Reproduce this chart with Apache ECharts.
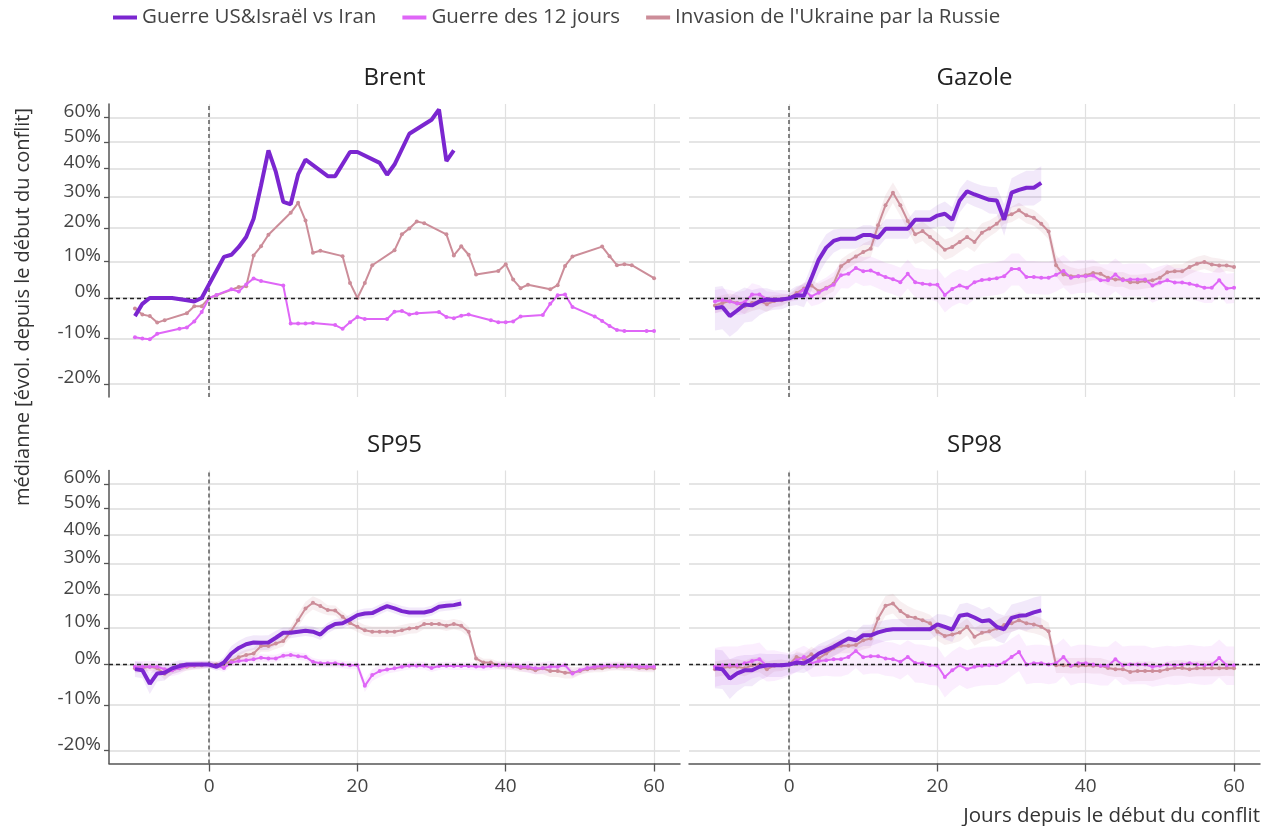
<!DOCTYPE html>
<html><head><meta charset="utf-8">
<script src="https://cdn.jsdelivr.net/npm/echarts@6/dist/echarts.min.js"></script>
<style>html,body{margin:0;padding:0;background:#fff}#chart{width:1261px;height:826px}</style>
</head><body><div id="chart"></div>
<script>
const seriesNames = ['Guerre US&Israël vs Iran', 'Guerre des 12 jours', "Invasion de l'Ukraine par la Russie"];
const panelTitles = ['Brent', 'Gazole', 'SP95', 'SP98'];
const yTickPct = [-20, -10, 0, 10, 20, 30, 40, 50, 60];
const xTicks = [0, 20, 40, 60];
const yAxisTitle = 'médianne [évol. depuis le début du conflit]';
const xAxisTitle = 'Jours depuis le début du conflit';

// days
const daysIran = [-10,-9,-8,-7,-6,-5,-4,-3,-2,-1,0,1,2,3,4,5,6,7,8,9,10,11,12,13,14,15,16,17,18,19,20,21,22,23,24,25,26,27,28,29,30,31,32,33,34];
const daysAll = [-10,-9,-8,-7,-6,-5,-4,-3,-2,-1,0,1,2,3,4,5,6,7,8,9,10,11,12,13,14,15,16,17,18,19,20,21,22,23,24,25,26,27,28,29,30,31,32,33,34,35,36,37,38,39,40,41,42,43,44,45,46,47,48,49,50,51,52,53,54,55,56,57,58,59,60];

// Brent (trading days only)
const brentIranDays = [-10,-9,-8,-5,-3,-2,-1,2,3,4,5,6,7,8,9,10,11,12,13,16,17,19,20,23,24,25,27,30,31,32,33];
const brentIran = [-4.6,-1.5,0,0,-0.6,-0.9,0,11.3,11.9,14.2,17.2,22.9,34,46.8,38.8,28.4,27.6,37.9,43.3,37.3,37.3,46.2,46.2,42.1,37.8,41.5,53.3,59,63.3,42.8,46.8];
const brent12Days = [-10,-9,-8,-7,-4,-3,-2,-1,0,1,3,4,5,6,7,10,11,12,13,14,17,18,19,20,21,24,25,26,27,28,31,32,33,34,35,38,39,40,41,42,45,46,47,48,49,52,53,54,55,56,59,60];
const brent12 = [-9.7,-10,-10.2,-8.9,-7.7,-7.4,-5.9,-3.6,0,0.8,2.3,1.7,3.6,5.2,4.5,3.3,-6.4,-6.4,-6.4,-6.3,-6.8,-7.7,-6.1,-4.8,-5.3,-5.3,-3.5,-3.3,-4.2,-3.9,-3.6,-4.8,-5.1,-4.5,-4.2,-5.6,-6.1,-6.1,-5.9,-4.7,-4.3,-1.5,0.7,0.9,-2.3,-4.7,-5.8,-7,-8,-8.2,-8.2,-8.2];
const brentUkrDays = [-10,-9,-8,-7,-6,-3,-2,-1,0,1,4,5,6,7,8,11,12,13,14,15,18,19,20,21,22,25,26,27,28,29,32,33,34,35,36,39,40,41,42,43,46,47,48,49,53,54,55,56,57,60];
const brentUkr = [-2.7,-4.2,-4.6,-6.2,-5.6,-3.9,-2.1,-2.1,0,0.7,2.9,3.1,11.7,14.4,17.9,24.8,28.1,22.3,12.5,13.1,11.5,4,0,4,8.9,13.2,18,19.8,22,21.5,18,11.7,14.4,11.9,6.3,7.3,9.2,4.9,2.6,3.5,2.3,3.4,8.7,11.4,14.3,11.5,8.9,9.2,8.9,5.3];

// Gazole
const gazIran = [-2.6,-2.3,-4.6,-3.2,-1.7,-1.9,-0.9,-0.4,-0.5,-0.4,-0.1, 0.7,0.6,5.3,10.5,14,16,16.7,16.7,16.7,17.8, 17.8,17,19.7,19.7,19.7,19.7,22.6,22.6,22.6,23.9, 24.5,22.6,28.9,32,30.9,30,29.1,28.9,22.6,31.5, 32.5,33.2,33.2,34.9];
const gazIranSpread = [5.5,5.5,5,5,4.5,4,3.5,3,2.5,2.5,2, 2.5,3,3.5,4,4,3.5,3,3,3,3, 3,3,3,3,3,3,3,3,3,3.5, 4,4,4,4,4,4,4.5,4.5,5,5, 5.5,6,6,6];
const gaz12 = [-0.9,-0.5,-0.9,-1.4,-1.1,0.9,0.9,-0.3,-0.4,-0.3,0, 0.8,2.2,0.4,1.4,2.5,3.5,6.1,6.5,8.1,7.2, 7.4,6.5,5.6,5,4.2,6.5,4.2,3.8,3.6,3.5, 0.8,2.4,3.3,2.7,4.2,4.8,5,5.3,5.8,7.8, 7.8,5.6,5.6,5.4,5.4,6.2,7.3,5.4,5.8,5.8, 6,4.7,4.7,6.3,4.7,4.9,4.9,4.9,3.3,4.1, 4.7,4.1,4.1,3.8,3.3,2.7,2.7,4.7,2.5,2.7];
const gaz12Spread = [3,3,3,3,3,3,2.5,2,2,1.5,1, 1.5,2,2.5,3,3,3.5,3.5,4,4,4, 4,4,4,4,4,4,4,4,4,4.5, 4.5,4.5,4.5,4.5,4.5,4.5,4.5,4.5,4.5,4.5, 4.5,4.5,4.5,4.5,4.5,4.5,4.5,4.5,4.5,4.5, 4.5,4.5,4.5,4.5,4.5,4.5,4.5,4.5,4.5,4.5, 4.5,4,4,4,4,4,4,4,4,4];
const gazUkr = [-1.9,-1.3,-0.8,-1.3,-2.1,-1.3,-0.8,-1.6,-0.8,-0.6,0, 1.3,2.5,3.3,1.8,2.7,3.8,8.6,10.1,11.4,12.7, 13.7,20.8,27.3,31.5,27.3,22.2,18,19,17.2,15.4, 13.4,14.2,15.7,17.2,15.7,18.5,19.8,21.3,23.7,24.3, 25.6,24,23.2,21.3,18.9,8.9,6.3,5.8,5.8,6.1, 6.7,6.5,5.4,4.9,5,4.2,4.2,4.5,4.7,5.4, 6.9,7.2,7.2,8.4,9.3,9.8,9.1,8.8,8.8,8.4];
const gazUkrSpread = [2,2,2,2,2,2,2,2,1.5,1.5,1, 1.5,1.5,1.5,2,2,2,2,2,2,2.5, 2.5,3,3.5,3.5,3.5,3,3,3,3,3, 3,3,3,3,3,3,2.5,2.5,2.5,2.5, 2.5,2.5,2.5,2.5,2.5,3,3,2.5,2,2, 2,2,2,2,2,2,2,2,2,2, 2,2,2,2,2,2,2,2,1.5,1.5];

// SP95
const sp95Iran = [-1.2,-1.5,-4.9,-2.3,-2.1,-1,-0.4,0,0,0,0, -0.6,0.5,2.9,4.4,5.4,5.9,5.8,5.9,7.2,8.6, 8.6,8.9,9.2,8.9,8.1,10,11.1,11.3,12.4,13.7, 14.2,14.3,15.4,16.4,15.7,14.9,14.5,14.5,14.5,15, 16.2,16.5,16.7,17.2];
const sp95IranSpread = [2,2,2.5,2,2,1.5,1.5,1,1,1,1, 1,1.5,2,2,2,2,2,2,2,1.5, 1.5,1.5,1.5,1.5,1.5,1.5,1.5,1.5,1.5,1.5, 1.5,1.5,1.5,1.5,1.5,1.5,1.5,1.5,1.5,1.5, 1.5,1.5,1.5,1.5];
const sp9512 = [-0.6,-0.6,-0.6,-0.6,-1.2,-1.5,-1,-0.4,-0.2,0,0, -0.2,-0.9,0.5,0.9,1.1,1.4,1.8,1.6,1.6,2.3, 2.5,2.2,2,0.7,0.3,0.3,0.3,0,-0.2,-0.2, -5.4,-2.7,-1.7,-1.3,-1,-0.6,-0.3,-0.3,-0.3,-0.9, -0.4,-0.3,-0.4,-0.4,-0.4,-0.5,-0.6,-0.4,-0.2,-0.2, -0.3,-0.6,-0.6,-1,-0.9,-0.6,-0.6,-0.2,-2.3,-1.5, -0.9,-0.6,-0.4,-0.3,-0.3,-0.3,-0.4,-0.6,-0.6,-0.6];
const sp9512Spread = [1.5,1.5,1.5,1.5,1.5,1.5,1.5,1,1,1,1, 1,1,1,1,1,1,1,1,1,1, 1,1,1,1,1,1,1,1,1,1, 1.5,1.5,1.5,1,1,1,1,1,1,1, 1,1,1,1,1,1,1,1,1,1, 1,1,1.5,1.5,1.5,1.5,1,1,1,1, 1,1,1,1,1,1,1,1,1,1];
const sp95Ukr = [-1,-0.9,-0.6,-1,-2.4,-1.5,-0.9,-0.6,-0.3,-0.2,0, 0,0.1,0.9,1.9,2.5,2.9,4.9,4.9,5.6,6.3, 8.9,12.2,15.7,17.4,16.4,15.2,15.1,13.2,11.4,10.3, 9.3,8.9,8.9,8.9,8.9,9.3,9.8,10,11.1,11.1, 11.1,10.6,11.1,10.6,8.9,1.6,0.5,0.5,-0.2,-0.3, -0.5,-0.9,-1,-1.5,-1,-1.7,-1.7,-2.1,-2.1,-1.7, -1.2,-1,-1,-0.6,-0.5,-0.6,-0.6,-0.9,-1,-1];
const sp95UkrSpread = [1,1,1,1,1.5,1,1,1,1,1,0.8, 0.8,1,1,1.2,1.5,1.5,1.5,1.5,1.5,1.5, 1.5,2,2,2,2,1.5,1.5,1.5,1.5,1.5, 1.5,1.5,1.5,1.5,1.5,1.5,1.5,1.5,1.5,1.5, 1.5,1.5,1.5,1.5,1.5,1,1,1,1,1, 1,1,1,1,1.5,1.5,1.5,1.5,1.5,1, 1,1,1,1,1,1,1,1,1,1];

// SP98
const sp98Iran = [-1,-1.2,-3.6,-2.3,-1.5,-1.5,-0.6,-0.2,-0.2,-0.2,0, 0.5,0.3,1.4,2.9,3.8,4.7,5.9,7,6.5,7.9, 7.9,8.7,9.3,9.6,9.6,9.6,9.6,9.6,9.6,11, 10.3,9.5,13.5,13.9,13,11.9,12.2,10.3,9.6,12.9, 13.5,13.7,14.5,15.1];
const sp98IranSpread = [5,5,5,4.5,4,4,3.5,3,3,3,2.5, 2.5,2.5,2.5,2.5,2.5,2.5,2.5,2.5,2.5,3, 3,3,3,3,3,3,3,3,3,3, 3.5,3.5,3.5,3.5,3.5,3.5,4,4,4,4, 4,4.5,4.5,4.5];
const sp9812 = [-0.6,-0.2,-0.2,-0.2,0.3,0.9,1.4,-0.3,-0.2,-0.2,0, 1.1,2,0.3,0.9,1.1,1.4,1.4,2,3.6,1.9, 2.2,2.2,1.6,1.4,0.7,2,0.4,0.3,-0.2,-0.3, -3.2,-1.5,-0.2,-1.2,-0.6,-0.3,-0.2,-0.2,0.5,2, 3.3,0,0.3,0.3,0,0.3,2,-0.3,0.3,0.3, 0,-0.3,-0.3,1.4,-0.2,0,0,0,-0.6,-0.3, 0,-0.2,0,0.3,0,-0.2,0,1.7,-0.2,-0.2];
const sp9812Spread = [5,5,5,5,5,4.5,4.5,4,4,3.5,3, 3,3,3.5,4,4,4.5,4.5,4.5,4.5,4.5, 4.5,4.5,4.5,4.5,4.5,4.5,5,5,5,5, 5,5,5,5,5,5,5,5,5,5, 5,5,5,5,5,5,5,5,5,5, 5,5,5,5,5,5,5,5,5,5, 5,5,5,5,5,5,5,5,5,5];
const sp98Ukr = [-1.2,-0.9,-0.6,-0.6,-1,-0.2,0,-1.2,-0.3,-0.2,0, 2,1.4,2.7,1.6,2.9,4.3,5,5,5.2,6.5, 7,12.7,16.5,17.2,14.9,13.4,12.9,12.2,11.3,8.9, 7.7,8.1,8.7,10.3,7.5,8.6,9,9.8,10.8,11.3, 12.2,11.3,11,10.3,9,-0.2,-0.2,-0.3,-0.3,-0.2, -0.3,-0.3,-0.9,-1.2,-1.2,-1.9,-1.7,-1.7,-1.7,-1.7, -1.2,-0.9,-0.9,-1.2,-1,-1,-1,-1,-0.9,-1];
const sp98UkrSpread = [2,2,2,2,2,2,2,2,1.5,1.5,1, 1.5,1.5,2,2,2,2,2,2,2,2.5, 2.5,3,3,3,3,3,2.5,2.5,2.5,2.5, 2.5,2.5,2.5,2.5,2.5,2.5,2.5,2.5,2.5,2.5, 2.5,2.5,2.5,2.5,2.5,2,2,2,2,2, 2,2,2,2,2,2.5,2.5,2.5,2.5,2, 2,2,2,2,2,2,2,2,2,2];

// ---------- build ----------
const FONT = "'Open Sans', 'Noto Sans', sans-serif";
const lineColors = ['#7b26d0', '#df66f7', '#cc8d99'];
const bandColors = ['rgba(123,38,208,0.10)', 'rgba(223,102,247,0.11)', 'rgba(204,141,153,0.14)'];
const toLn = p => Math.log(1 + p / 100);
const yTickLn = yTickPct.map(toLn);
const Y_MIN = -0.2575, Y_MAX = 0.5046, X_MIN = -13.5, X_MAX = 63.5;

const panels = [
  { lines: [[brentUkrDays, brentUkr], [brent12Days, brent12], [brentIranDays, brentIran]], bands: null },
  { lines: [[daysAll, gazUkr, gazUkrSpread], [daysAll, gaz12, gaz12Spread], [daysIran, gazIran, gazIranSpread]], bands: true },
  { lines: [[daysAll, sp95Ukr, sp95UkrSpread], [daysAll, sp9512, sp9512Spread], [daysIran, sp95Iran, sp95IranSpread]], bands: true },
  { lines: [[daysAll, sp98Ukr, sp98UkrSpread], [daysAll, sp9812, sp9812Spread], [daysIran, sp98Iran, sp98IranSpread]], bands: true }
];
// lines[0]=Ukraine(2), lines[1]=12 jours(1), lines[2]=Iran(0)
const lineToSeries = [2, 1, 0];

const grids = [
  { left: 109, top: 104, width: 571, height: 293 },
  { left: 689, top: 104, width: 571, height: 293 },
  { left: 109, top: 470.5, width: 571, height: 293 },
  { left: 689, top: 470.5, width: 571, height: 293 }
];

const xAxes = grids.map((g, i) => ({
  type: 'value', gridIndex: i, min: X_MIN, max: X_MAX,
  axisLine: { show: i >= 2, onZero: false, lineStyle: { color: '#555', width: 1.5 } },
  axisTick: { show: i >= 2, customValues: xTicks, length: 8, lineStyle: { color: '#555', width: 1.3 } },
  axisLabel: { show: i >= 2, customValues: xTicks, fontSize: 19, color: '#444', margin: 14, fontFamily: FONT },
  splitLine: { show: true, lineStyle: { color: '#e0e0e0', width: 1.2 } }
}));

const yAxes = grids.map((g, i) => ({
  type: 'value', gridIndex: i, min: Y_MIN, max: Y_MAX,
  axisLine: { show: i % 2 === 0, onZero: false, lineStyle: { color: '#555', width: 1.5 } },
  axisTick: { show: i % 2 === 0, customValues: yTickLn, length: 5, lineStyle: { color: '#555', width: 1.3 } },
  axisLabel: {
    show: i % 2 === 0, customValues: yTickLn, fontSize: 19, color: '#444', margin: 8, fontFamily: FONT,
    verticalAlign: 'bottom', lineHeight: 12,
    formatter: v => {
      let best = 0, bd = Infinity;
      yTickLn.forEach((t, k) => { const d = Math.abs(t - v); if (d < bd) { bd = d; best = k; } });
      return yTickPct[best] + '%';
    }
  },
  splitLine: { show: true, lineStyle: { color: '#dcdcdc', width: 1.5 } }
}));

const series = [];
panels.forEach((p, gi) => {
  if (p.bands) {
    p.lines.forEach((ln, li) => {
      const si = lineToSeries[li];
      const [days, vals, spread] = ln;
      const data = days.map((d, k) => [d, toLn(vals[k] - spread[k]), toLn(vals[k] + spread[k])]);
      series.push({
        type: 'custom', xAxisIndex: gi, yAxisIndex: gi, silent: true, clip: true, z: 1,
        encode: { x: 0, y: [1, 2] }, data,
        renderItem: (params, api) => {
          if (params.dataIndex !== 0) return null;
          const up = data.map(q => api.coord([q[0], q[2]]));
          const lo = data.map(q => api.coord([q[0], q[1]])).reverse();
          return { type: 'polygon', shape: { points: up.concat(lo) }, style: { fill: bandColors[si] } };
        }
      });
    });
  }
  p.lines.forEach((ln, li) => {
    const si = lineToSeries[li];
    const [days, vals] = ln;
    const isIran = si === 0;
    const s = {
      type: 'line', name: seriesNames[si], xAxisIndex: gi, yAxisIndex: gi,
      data: days.map((d, k) => [d, toLn(vals[k])]),
      showSymbol: !isIran, symbol: 'circle', symbolSize: 4,
      lineStyle: { width: isIran ? 4 : 2, color: lineColors[si] },
      itemStyle: { color: lineColors[si] },
      z: isIran ? 5 : 3, silent: true
    };
    if (li === 0) {
      s.markLine = {
        silent: true, symbol: ['none', 'none'], label: { show: false },
        data: [
          { xAxis: 0, lineStyle: { color: '#666', type: [4, 3], width: 1.6 } },
          { yAxis: 0, lineStyle: { color: '#222', type: [4, 3], width: 1.3 } }
        ]
      };
    }
    series.push(s);
  });
});

const graphics = [];
const titlePos = [[394.5, 78], [974.5, 78], [394.5, 445], [974.5, 445]];
panelTitles.forEach((t, i) => graphics.push({
  type: 'text', x: titlePos[i][0], y: titlePos[i][1],
  style: { text: t, font: '24px ' + FONT, fill: '#222', textAlign: 'center', textVerticalAlign: 'middle' }
}));
graphics.push({
  type: 'text', x: 23, y: 307, rotation: Math.PI / 2,
  style: { text: yAxisTitle, font: '20px ' + FONT, fill: '#333', textAlign: 'center', textVerticalAlign: 'middle' }
});
graphics.push({
  type: 'text', x: 1260, y: 816,
  style: { text: xAxisTitle, font: '20.5px ' + FONT, fill: '#333', textAlign: 'right', textVerticalAlign: 'middle' }
});

const chart = echarts.init(document.getElementById('chart'), null, { renderer: 'canvas' });
chart.setOption({
  animation: false,
  backgroundColor: '#fff',
  textStyle: { fontFamily: FONT },
  legend: {
    data: seriesNames, left: 108, top: 2, icon: 'rect', itemWidth: 24, itemHeight: 4, itemGap: 26,
    textStyle: { fontSize: 20.5, color: '#444', fontFamily: FONT }, selectedMode: false
  },
  grid: grids,
  xAxis: xAxes,
  yAxis: yAxes,
  series,
  graphic: graphics
});
</script></body></html>
